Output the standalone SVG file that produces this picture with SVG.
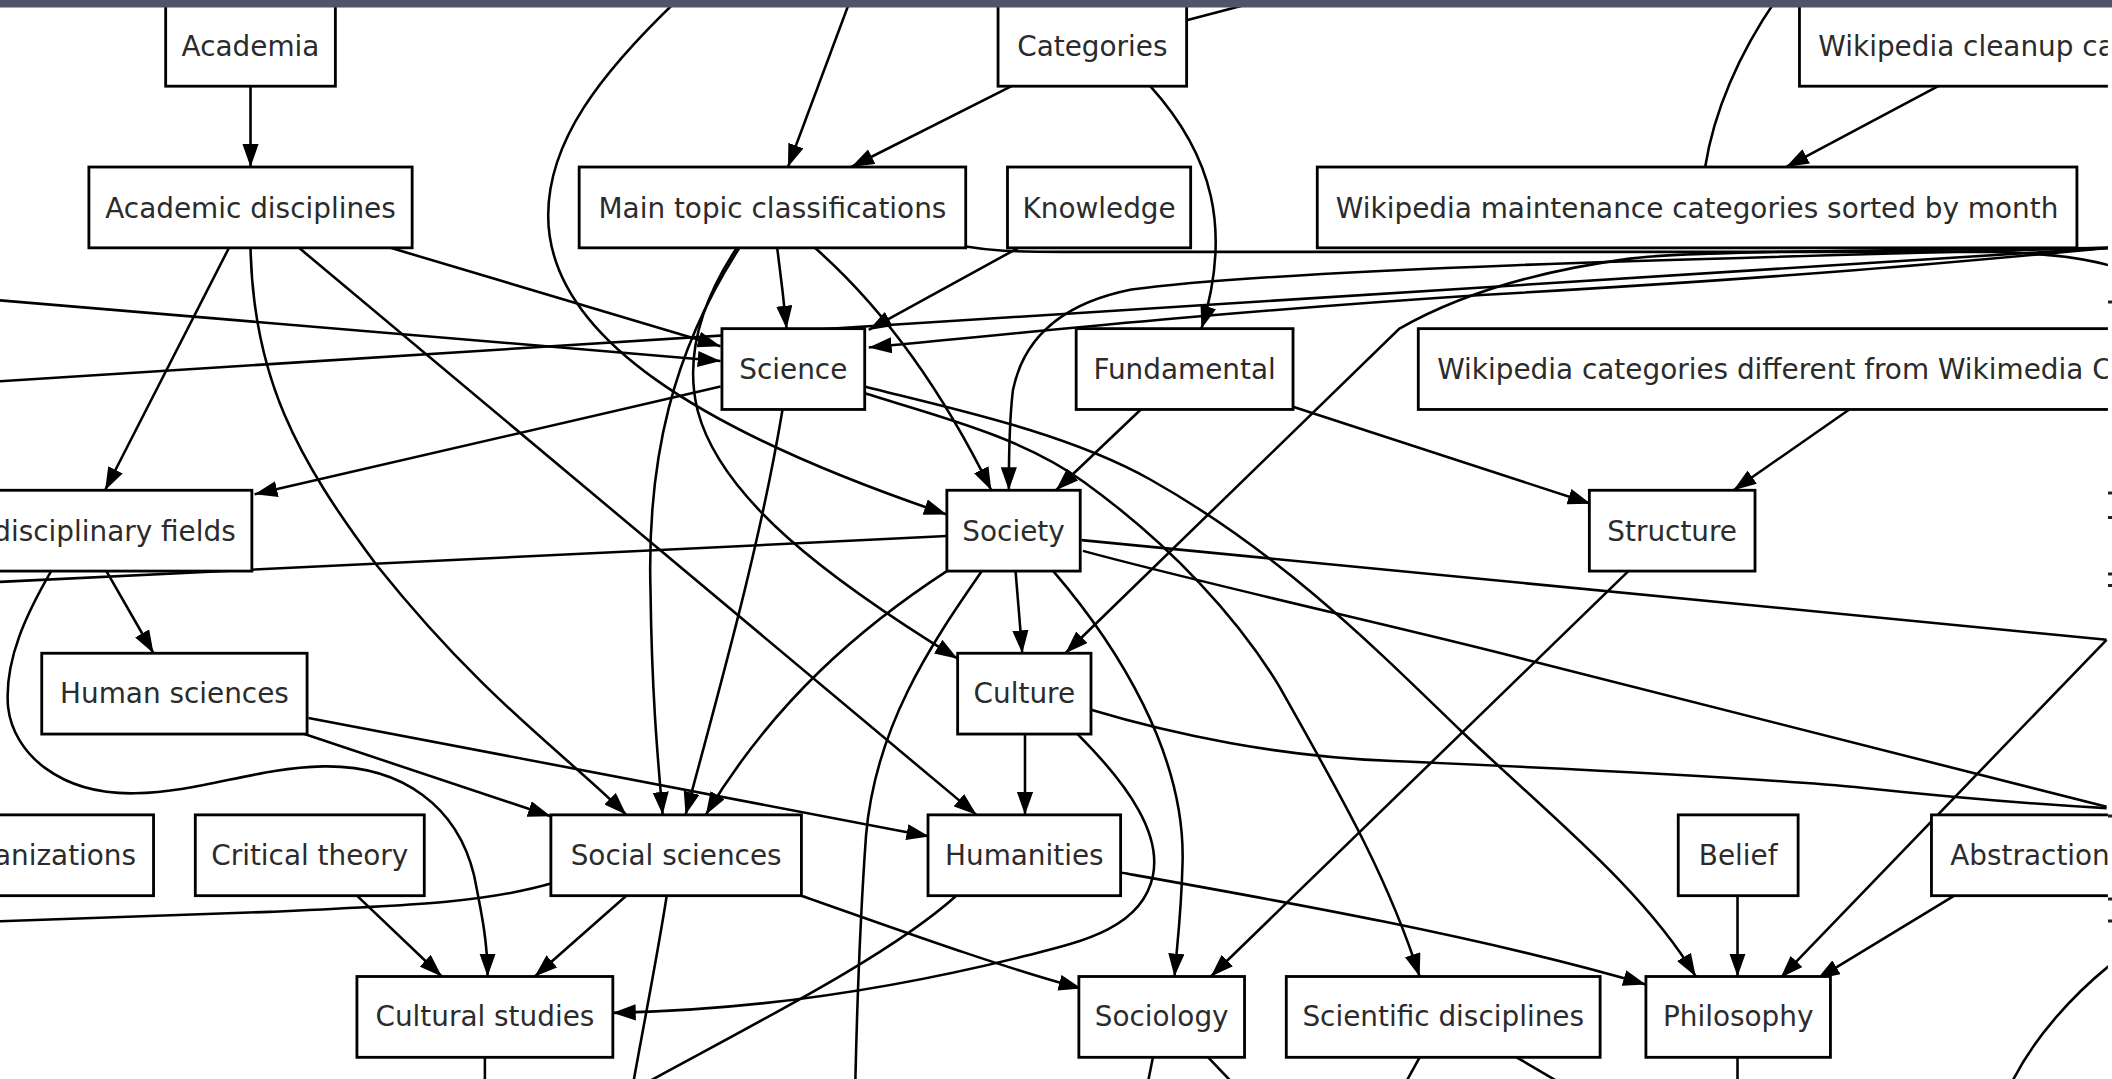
<svg xmlns="http://www.w3.org/2000/svg" width="2112" height="1079" viewBox="0 0 2112 1079">
<style>
.n rect{fill:#fff;stroke:#000;stroke-width:2.1}
.n text{font-family:"DejaVu Sans","Liberation Sans",sans-serif;font-size:20.7px;fill:#2b2b2b;text-anchor:middle}
.n text.s{text-anchor:start}
.n text.e{text-anchor:end}
#edges path{fill:none;stroke:#000;stroke-width:1.9}
#edges path.a{marker-end:url(#ah)}
.tick{fill:#222}
</style>
<defs>
<marker id="ah" viewBox="0 0 17 12" refX="17" refY="6" markerWidth="17" markerHeight="12" markerUnits="userSpaceOnUse" orient="auto"><path d="M0,0 L17,6 L0,12 z" fill="#000"/></marker>
<clipPath id="clip"><rect x="0" y="0" width="1565" height="802"/></clipPath>
</defs>
<rect x="0" y="0" width="2112" height="1079" fill="#fff"/>
<g transform="scale(1.3469)" clip-path="url(#clip)">
<g id="edges">
<path class="a" d="M186,64 L186,124"/>
<path class="a" d="M751,64 L632,124"/>
<path class="a" d="M635,-10 L585,124"/>
<path d="M881,15 L946,-2"/>
<path class="a" d="M505,-2 C445,55 407,105 407,160 C407,250 520,320 703,382"/>
<path d="M1266,124 C1272,85 1290,40 1322,-5"/>
<path class="a" d="M1439,64 L1326,124"/>
<path class="a" d="M854,64 C900,115 915,170 892,244"/>
<path class="a" d="M290,184 L535,257"/>
<path class="a" d="M0,223 L535,268"/>
<path d="M0,283 C400,255 900,222 1566,184"/>
<path d="M717,183 C735,186 750,187 790,187 L1480,187 C1520,188 1545,191 1566,197"/>
<path class="a" d="M756,184 L645,245"/>
<path class="a" d="M577,184 Q581,214 584,244"/>
<path class="a" d="M605,184 Q680,250 736,364"/>
<path class="a" d="M549,184 C500,260 480,340 483,440 C484,520 489,570 492,605"/>
<path class="a" d="M547,184 C520,225 508,265 518,305 C535,370 615,430 711,489"/>
<path class="a" d="M581,304 C565,400 540,490 509,605"/>
<path class="a" d="M535,287 L189,367"/>
<path class="a" d="M642,287 C700,302 790,320 854,356 C950,410 1020,480 1084,542 C1150,605 1220,660 1259,725"/>
<path class="a" d="M642,292 C700,310 760,325 805,358 C870,405 920,460 950,510 C995,590 1030,650 1054,725"/>
<path class="a" d="M847,304 L784,364"/>
<path class="a" d="M960,302 L1181,374"/>
<path class="a" d="M1373,304 L1287,364"/>
<path class="a" d="M1566,184 C1480,192 1350,205 1100,219 C900,232 750,248 645,258"/>
<path class="a" d="M1566,184 C1250,192 950,200 840,215 C790,225 760,250 752,290 C749,315 749,340 749,364"/>
<path class="a" d="M1566,184 C1400,186 1260,186 1210,192 C1150,200 1090,215 1039,244 L791,485"/>
<path class="a" d="M170,184 L78,364"/>
<path class="a" d="M186,184 C188,280 220,340 280,420 C360,520 420,560 465,605"/>
<path class="a" d="M222,184 L725,605"/>
<path d="M703,398 L0,432"/>
<path class="a" d="M79,424 L114,485"/>
<path class="a" d="M38,424 C20,455 3,490 6,525 C10,560 45,590 100,589 C150,588 190,570 240,569 C300,568 340,600 352,650 C358,680 362,700 362,725"/>
<path class="a" d="M226,545 L409,606"/>
<path class="a" d="M229,533 L690,621"/>
<path class="a" d="M703,424 C640,465 575,520 524,605"/>
<path class="a" d="M754,424 L759,485"/>
<path class="a" d="M782,424 C830,480 880,560 878,640 C877,680 874,700 872,725"/>
<path d="M729,424 C690,480 650,540 643,620 C638,690 636,760 635,805"/>
<path d="M803,401 L1564,475"/>
<path class="a" d="M1564,475 L1322,726"/>
<path d="M804,409 C900,435 1050,468 1134,490 C1300,532 1450,570 1564,599"/>
<path d="M810,527 C870,545 950,562 1034,565 C1150,570 1300,577 1384,585 C1450,592 1510,597 1564,600"/>
<path class="a" d="M761,545 L761,605"/>
<path class="a" d="M800,545 C840,585 862,620 856,650 C848,690 800,700 760,710 C660,735 560,750 455,752"/>
<path class="a" d="M833,648 C940,667 1100,695 1222,731"/>
<path d="M710,665 C660,710 560,760 478,805"/>
<path class="a" d="M595,665 C680,695 750,720 803,734"/>
<path class="a" d="M465,665 L397,725"/>
<path d="M495,665 C488,710 478,760 470,805"/>
<path d="M409,656 C360,670 310,672 200,677 L0,684"/>
<path class="a" d="M265,665 L328,725"/>
<path class="a" d="M1209,424 L899,725"/>
<path class="a" d="M1290,665 L1290,725"/>
<path class="a" d="M1451,665 L1349,727"/>
<path d="M360,785 L360,805"/>
<path d="M856,785 L852,805"/>
<path d="M897,785 L916,805"/>
<path d="M1054,785 L1043,805"/>
<path d="M1126,785 L1160,805"/>
<path d="M1290,785 L1290,805"/>
<path d="M1566,717 C1540,738 1510,770 1493,805"/>
</g>
<g id="n-academia" class="n"><rect x="123" y="-10" width="126" height="74"/><text x="186" y="41.5">Academia</text></g>
<g id="n-categories" class="n"><rect x="741" y="-10" width="140" height="74"/><text x="811" y="41.5">Categories</text></g>
<g id="n-wikicleanup" class="n"><rect x="1336" y="-10" width="400" height="74"/><text class="s" x="1350" y="41.5">Wikipedia cleanup ca</text></g>
<g id="n-academicdisc" class="n"><rect x="66" y="124" width="240" height="60"/><text x="186" y="161.5">Academic disciplines</text></g>
<g id="n-maintopic" class="n"><rect x="430" y="124" width="287" height="60"/><text x="573.5" y="161.5">Main topic classifications</text></g>
<g id="n-knowledge" class="n"><rect x="748" y="124" width="136" height="60"/><text x="816" y="161.5">Knowledge</text></g>
<g id="n-wikimaint" class="n"><rect x="978" y="124" width="564" height="60"/><text x="1260" y="161.5">Wikipedia maintenance categories sorted by month</text></g>
<g id="n-science" class="n"><rect x="536" y="244" width="106" height="60"/><text x="589" y="281.5">Science</text></g>
<g id="n-fundamental" class="n"><rect x="799" y="244" width="161" height="60"/><text x="879.5" y="281.5">Fundamental</text></g>
<g id="n-wikicatdiff" class="n"><rect x="1053" y="244" width="700" height="60"/><text class="s" x="1067" y="281.5">Wikipedia categories different from Wikimedia Co</text></g>
<g id="n-interdisc" class="n"><rect x="-100" y="364" width="287" height="60"/><text class="e" x="175" y="401.5">disciplinary fields</text></g>
<g id="n-society" class="n"><rect x="703" y="364" width="99" height="60"/><text x="752.5" y="401.5">Society</text></g>
<g id="n-structure" class="n"><rect x="1180" y="364" width="123" height="60"/><text x="1241.5" y="401.5">Structure</text></g>
<g id="n-humansci" class="n"><rect x="31" y="485" width="197" height="60"/><text x="129.5" y="522">Human sciences</text></g>
<g id="n-culture" class="n"><rect x="711" y="485" width="99" height="60"/><text x="760.5" y="522">Culture</text></g>
<g id="n-organizations" class="n"><rect x="-100" y="605" width="214" height="60"/><text class="e" x="101" y="642">anizations</text></g>
<g id="n-criticaltheory" class="n"><rect x="145" y="605" width="170" height="60"/><text x="230" y="642">Critical theory</text></g>
<g id="n-socialsci" class="n"><rect x="409" y="605" width="186" height="60"/><text x="502" y="642">Social sciences</text></g>
<g id="n-humanities" class="n"><rect x="689" y="605" width="143" height="60"/><text x="760.5" y="642">Humanities</text></g>
<g id="n-belief" class="n"><rect x="1246" y="605" width="89" height="60"/><text x="1290.5" y="642">Belief</text></g>
<g id="n-abstraction" class="n"><rect x="1434" y="605" width="300" height="60"/><text class="s" x="1448" y="642">Abstraction</text></g>
<g id="n-culturalstudies" class="n"><rect x="265" y="725" width="190" height="60"/><text x="360" y="762">Cultural studies</text></g>
<g id="n-sociology" class="n"><rect x="801" y="725" width="123" height="60"/><text x="862.5" y="762">Sociology</text></g>
<g id="n-scidisc" class="n"><rect x="955" y="725" width="233" height="60"/><text x="1071.5" y="762">Scientific disciplines</text></g>
<g id="n-philosophy" class="n"><rect x="1222" y="725" width="137" height="60"/><text x="1290.5" y="762">Philosophy</text></g>
</g>
<rect x="0" y="0" width="2112" height="7.5" fill="#4f5466"/>
<g id="edge-ticks">
<rect class="tick" x="2108" y="300.5" width="4" height="3"/>
<rect class="tick" x="2108" y="491.5" width="4" height="3"/>
<rect class="tick" x="2108" y="516" width="4" height="3"/>
<rect class="tick" x="2108" y="572.5" width="4" height="3"/>
<rect class="tick" x="2108" y="584" width="4" height="3"/>
<rect class="tick" x="2108" y="814.5" width="4" height="3"/>
<rect class="tick" x="2108" y="897.5" width="4" height="3"/>
<rect class="tick" x="2108" y="919.5" width="4" height="3"/>
</g>
</svg>
